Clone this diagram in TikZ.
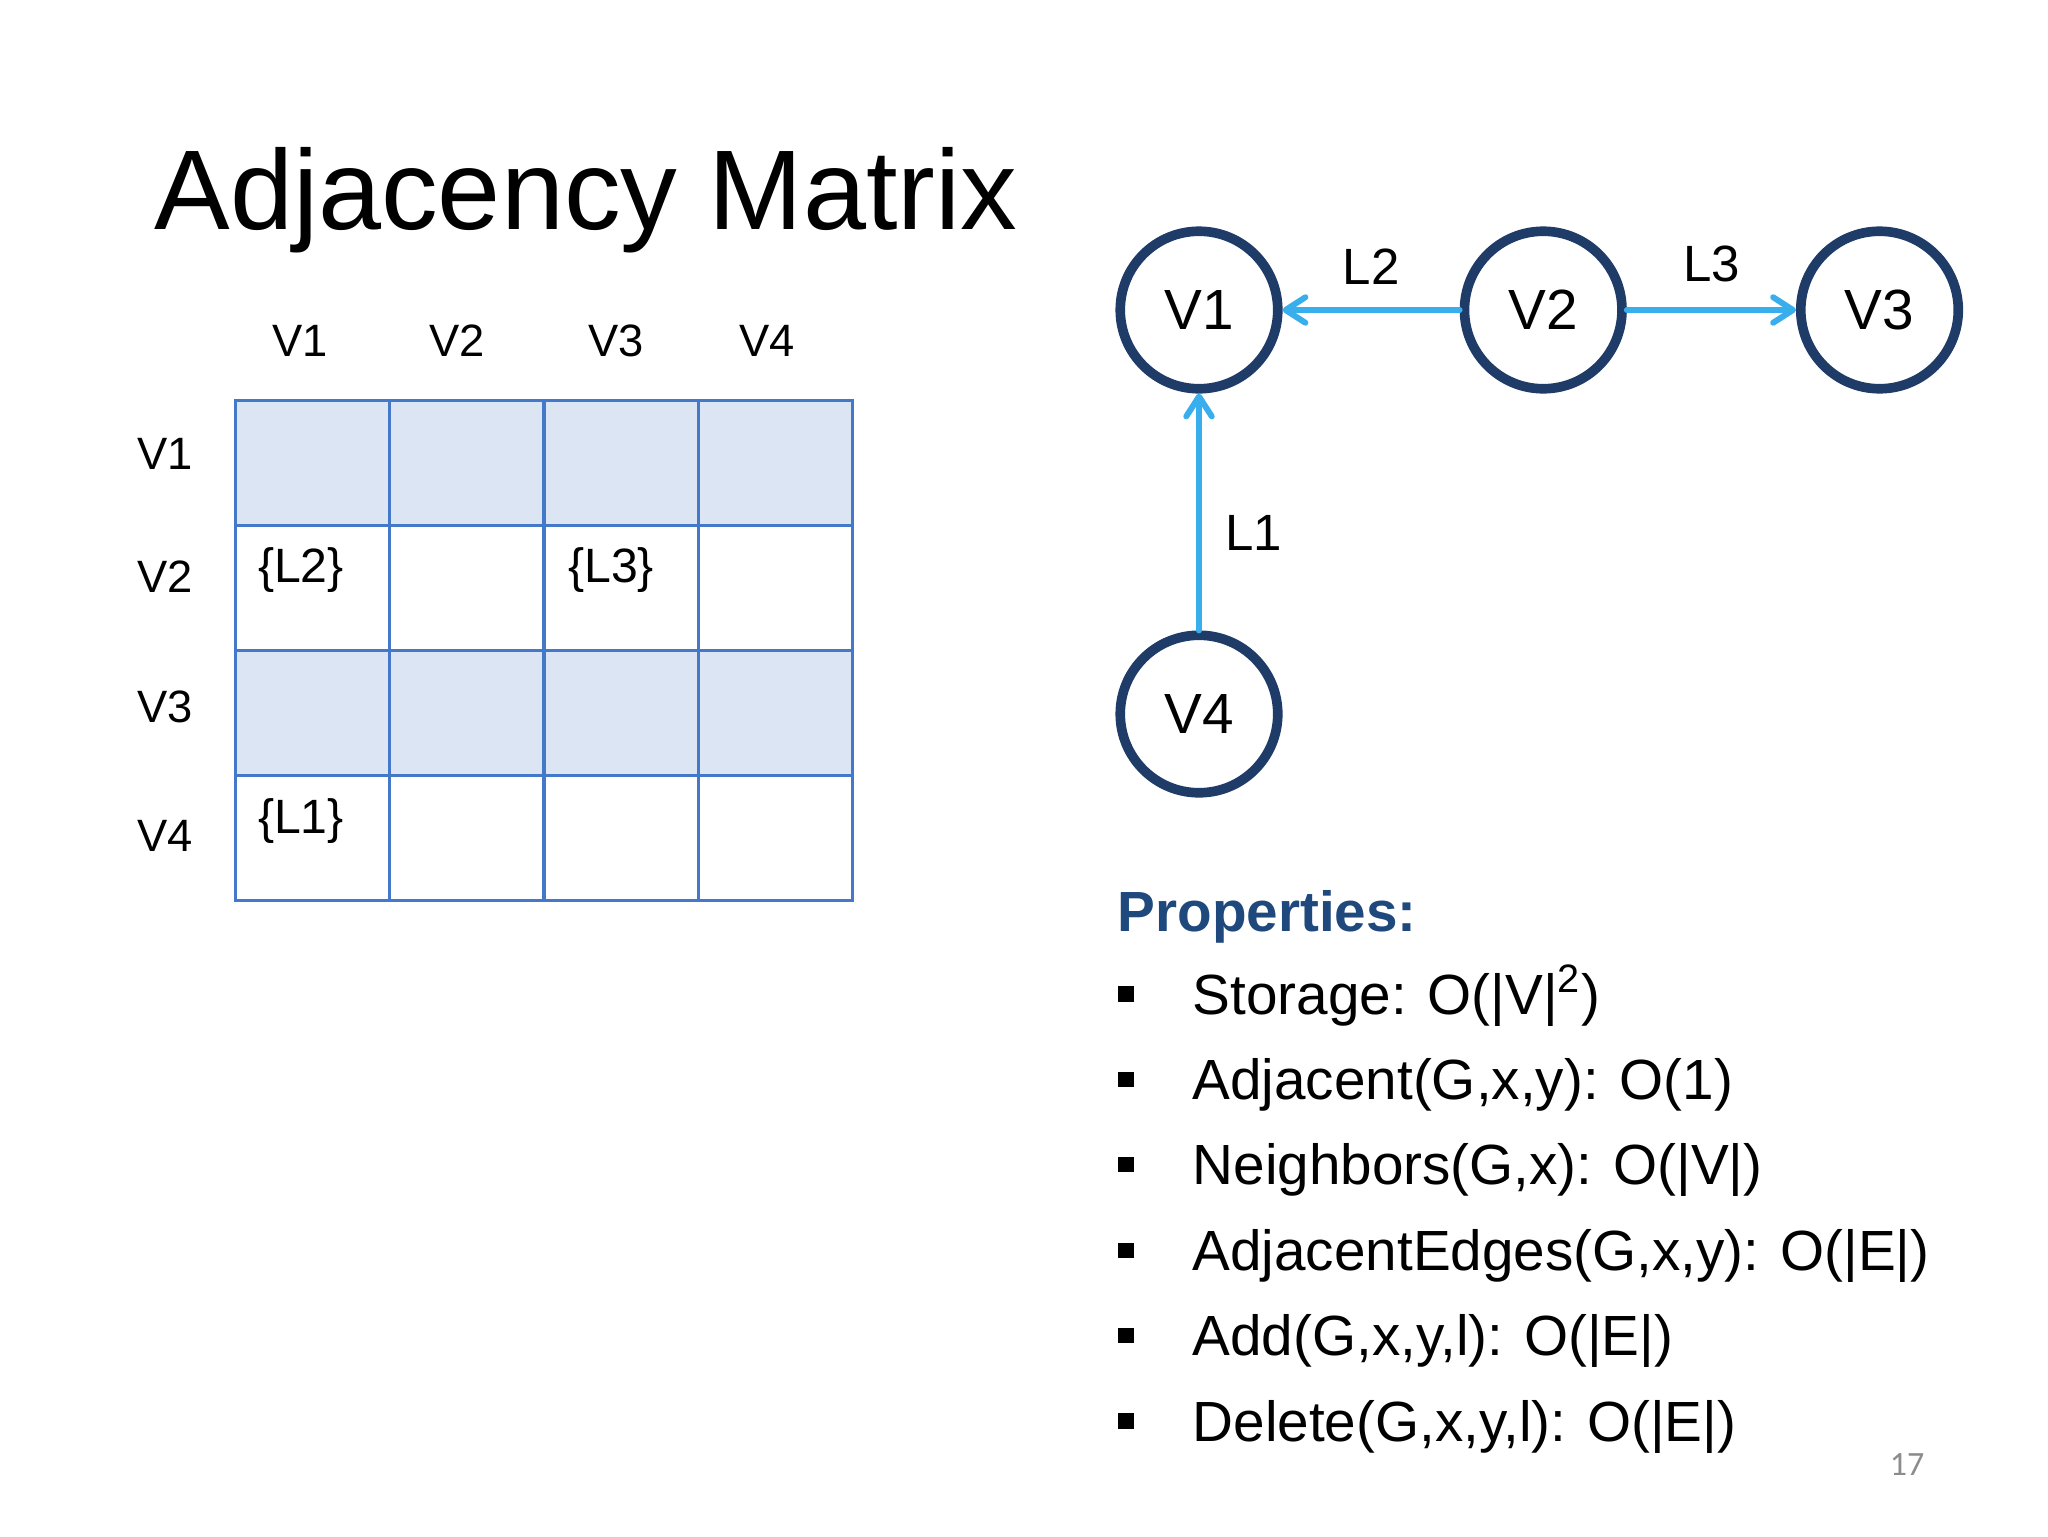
\documentclass[tikz,border=0pt]{standalone}
\usepackage{fontspec}
\setmainfont{Liberation Sans}
\newfontfamily\pagenumfont{Carlito}
\usetikzlibrary{arrows.meta, positioning, shadows}
\definecolor{SlideNavy}{RGB}{31,59,104}
\definecolor{LinkBlue}{RGB}{56,174,236}
\definecolor{GridBlue}{RGB}{68,120,200}
\definecolor{RowFill}{RGB}{219,229,244}
\definecolor{PropBlue}{RGB}{31,73,125}

\begin{document}
\begin{tikzpicture}[x=0.0124cm, y=-0.0124cm,
    vertex/.style={circle, draw=SlideNavy, line width=3.4pt, fill=white, minimum size=55.6pt, inner sep=0pt, font=\fontsize{20}{24}\selectfont, drop shadow={shadow xshift=1pt, shadow yshift=-1.5pt, opacity=0.2}},
    cell/.style={rectangle, draw=GridBlue, line width=1pt, minimum width=54.32pt, minimum height=44.04pt, inner sep=0pt, outer sep=0pt},
    hdr/.style={font=\fontsize{16}{19}\selectfont},
    entry/.style={font=\fontsize{17}{20}\selectfont},
    linklabel/.style={font=\fontsize{18}{22}\selectfont, text=black},
    arrow/.style={-{Straight Barb[length=7pt, width=9pt, round]}, draw=LinkBlue, line width=2.1pt, line cap=round},
    bulletsq/.style={rectangle, fill=black, minimum size=5.4pt, inner sep=0pt},
    listitem/.style={anchor=base west, inner sep=0pt, font=\fontsize{20}{24}\selectfont}
]
\useasboundingbox (0,0) rectangle (2048,1536);

\node[anchor=base west, inner sep=0pt, font=\fontsize{40}{48}\selectfont] (title) at (154,229) {Adjacency Matrix};

% matrix cells
\foreach \r/\tone in {1/RowFill, 2/white, 3/RowFill, 4/white}
  \foreach \c in {1,...,4}
    \node[cell, fill=\tone] (c\r\c) at ({235+154.5*(\c-0.5)}, {400+125.25*(\r-0.5)}) {};

\foreach \c/\x in {1/300, 2/457, 3/616, 4/767}
  \node[hdr] (col\c) at (\x,341) {V\c};
\foreach \r/\y in {1/454, 2/577, 3/707, 4/836}
  \node[hdr] (row\r) at (165,\y) {V\r};

\node[entry] (e21) at (301,570) {\{L2\}};
\node[entry] (e23) at (611,570) {\{L3\}};
\node[entry] (e41) at (301,821) {\{L1\}};

% graph
\node[vertex] (v1) at (1199,310) {V1};
\node[vertex, right=62.5pt of v1] (v2) {V2};
\node[vertex, right=59.7pt of v2] (v3) {V3};
\node[vertex, below=83.6pt of v1] (v4) {V4};

\draw[arrow] (v2) -- node[linklabel, above=4.5pt] (l2) {L2} (v1);
\draw[arrow] (v2) -- node[linklabel, above=5.5pt] (l3) {L3} (v3);
\draw[arrow] (v4) -- node[linklabel, right=5pt, pos=0.41] (l1) {L1} (v1);

% properties
\node[anchor=base west, inner sep=0pt, font=\fontsize{20}{24}\selectfont\bfseries, text=PropBlue] (props) at (1117,931) {Properties:};
\foreach \i/\txt in {1/{Storage: O(|V|\textsuperscript{2})}, 2/{Adjacent(G,x,y): O(1)}, 3/{Neighbors(G,x): O(|V|)}, 4/{AdjacentEdges(G,x,y): O(|E|)}, 5/{Add(G,x,y,l): O(|E|)}, 6/{Delete(G,x,y,l): O(|E|)}} {
  \node[bulletsq] (bul\i) at (1126, {994+85.4*(\i-1)}) {};
  \node[listitem] (item\i) at (1192, {1014+85.4*(\i-1)}) {\txt};
}

\node[font=\pagenumfont\fontsize{12}{14}\selectfont, text=black!45] (pagenum) at (1907,1465) {17};
\end{tikzpicture}
\end{document}
